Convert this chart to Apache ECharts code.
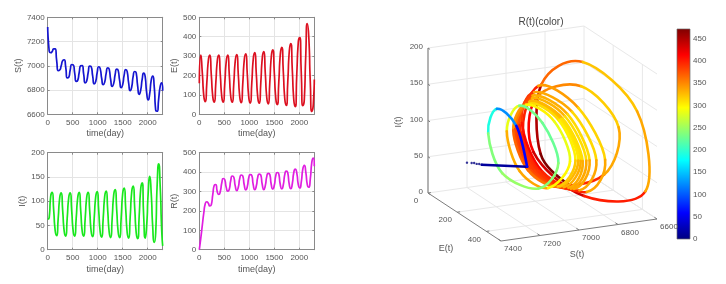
<!DOCTYPE html>
<html><head><meta charset="utf-8">
<style>html,body{margin:0;padding:0;background:#fff}#c{width:726px;height:284px;filter:blur(0.35px)}</style>
<script src="https://cdn.jsdelivr.net/npm/echarts@6/dist/echarts.min.js"></script>
</head><body><div id="c"></div>
<script>
const time=[0,30,60,90,120,150,180,210,240,270,300,330,360,390,420,450,480,510,540,570,600,630,660,690,720,750,780,810,840,870,900,930,960,990,1020,1050,1080,1110,1140,1170,1200,1230,1260,1290,1320,1350,1380,1410,1440,1470,1500,1530,1560,1590,1620,1650,1680,1710,1740,1770,1800,1830,1860,1890,1920,1950,1980,2010,2040,2070,2100,2130,2160,2190,2220,2250,2280,2300];
const Sv=[7320,7120,7108,7118,7140,7140,7040,6960,6965,7000,7043,7050,6990,6900,6905,6965,7010,7008,6940,6872,6880,6945,7000,7002,6930,6860,6875,6945,6998,6992,6915,6851,6870,6945,6992,6977,6895,6845,6865,6940,6983,6972,6885,6830,6855,6930,6973,6962,6875,6820,6845,6925,6968,6952,6855,6795,6825,6915,6953,6942,6830,6765,6800,6890,6940,6910,6775,6718,6770,6880,6915,6830,6635,6625,6730,6830,6860,6795];
const Ev=[160,305,215,95,65,161,276,305,203,90,63,161,276,305,203,90,63,161,275,305,203,89,62,160,278,308,204,87,60,161,282,312,205,86,58,163,287,318,208,86,57,163,291,323,210,84,54,164,298,332,214,81,50,167,309,345,219,79,46,170,326,365,228,74,40,210,372,395,208,45,75,308,467,397,165,15,50,180];
const Iv=[63,66,110,118,81,39,29,65,107,117,80,38,28,65,107,117,80,38,28,65,107,118,81,38,28,65,108,118,80,37,27,65,109,120,81,36,26,65,110,121,81,36,25,66,113,124,82,36,25,67,116,127,84,35,24,68,119,131,86,35,23,70,125,138,68,24,51,117,151,117,48,15,35,136,177,130,40,8];
const Rv=[0,60,125,190,238,247,240,226,232,285,332,336,298,285,300,345,367,360,320,302,312,358,380,374,328,305,322,368,385,380,332,308,325,372,387,383,333,310,328,375,390,385,335,310,330,378,393,388,335,312,332,382,398,390,335,313,335,388,405,396,335,315,340,398,415,395,335,318,350,415,435,400,335,322,365,450,472,430];
const earlyS=[7320,7302,7292,7282,7272,7262];
const earlyE=[160,168,172,176,180,184];
const earlyI=[60,60,60,59,59,58];
const sTicks3D=[7400,7200,7000,6800,6600];
const eTicks3D=[0,200,400];
const iTicks3D=[0,50,100,150,200];
const jet=['#00007f','#0000ff','#007fff','#00ffff','#7fff7f','#ffff00','#ff7f00','#ff0000','#7f0000'];
const font='"Liberation Sans",Arial,sans-serif', txt='#555555', frame='#8a8a8a', gridc='#e4e4e4';
const plain=v=>String(v);

const panels=[
 {name:'S(t)',v:Sv,color:'#1515d0',min:6600,max:7400,step:200,l:47.7,t:17.3,gap:23},
 {name:'E(t)',v:Ev,color:'#dc1020',min:0,max:500,step:100,l:199.3,t:17.3,gap:20},
 {name:'I(t)',v:Iv,color:'#18e81c',min:0,max:200,step:50,l:47.7,t:152.7,gap:20},
 {name:'R(t)',v:Rv,color:'#e01ee0',min:0,max:500,step:100,l:199.3,t:152.7,gap:20}];
const grid=[],xAxis=[],yAxis=[],series=[];
panels.forEach((p,i)=>{
 grid.push({left:p.l,top:p.t,width:115,height:97,show:false});
 const xa={type:'value',gridIndex:i,min:0,max:2300,interval:500,
  axisLine:{show:true,onZero:false,lineStyle:{color:frame,width:1}},
  axisTick:{show:true,inside:true,length:2,lineStyle:{color:frame}},
  splitLine:{show:true,lineStyle:{color:gridc,width:1}},
  axisLabel:{color:txt,fontFamily:font,fontSize:8,margin:4,showMaxLabel:false,formatter:plain}};
 xAxis.push({...xa,position:'bottom',name:'time(day)',nameLocation:'middle',nameGap:15,nameTextStyle:{color:txt,fontFamily:font,fontSize:9}});
 xAxis.push({...xa,position:'top',splitLine:{show:false},axisLabel:{show:false}});
 const ya={type:'value',gridIndex:i,min:p.min,max:p.max,interval:p.step,
  axisLine:{show:true,onZero:false,lineStyle:{color:frame,width:1}},
  axisTick:{show:true,inside:true,length:2,lineStyle:{color:frame}},
  splitLine:{show:true,lineStyle:{color:gridc,width:1}},
  axisLabel:{color:txt,fontFamily:font,fontSize:8,margin:3,formatter:plain}};
 yAxis.push({...ya,position:'left',name:p.name,nameLocation:'middle',nameGap:p.gap,nameTextStyle:{color:txt,fontFamily:font,fontSize:9}});
 yAxis.push({...ya,position:'right',splitLine:{show:false},axisLabel:{show:false}});
 series.push({type:'line',name:p.name,xAxisIndex:i*2,yAxisIndex:i*2,data:time.map((t,k)=>[t,p.v[k]]),
  smooth:0.7,showSymbol:false,lineStyle:{color:p.color,width:1.7},itemStyle:{color:p.color},z:3,silent:true});
});

// colour bar scale
const CB=panels.length;
const CBI=xAxis.length;
grid.push({left:677,top:29,width:13,height:210,show:false});
xAxis.push({type:'value',gridIndex:CB,min:0,max:1,show:false});
yAxis.push({type:'value',gridIndex:CB,position:'right',min:0,max:472,interval:50,
 axisLine:{show:false},axisTick:{show:false},splitLine:{show:false},
 axisLabel:{color:txt,fontFamily:font,fontSize:8,margin:3,showMaxLabel:false,formatter:plain}});
series.push({type:'custom',coordinateSystem:'cartesian2d',xAxisIndex:CBI,yAxisIndex:CBI,silent:true,z:2,clip:false,
 data:[[0,0,1,472]],encode:{x:0,y:1},
 renderItem(params,api){
  const a=api.coord([0,api.value(3)]),b=api.coord([1,0]);
  return {type:'rect',shape:{x:a[0],y:a[1],width:b[0]-a[0],height:b[1]-a[1]},
   style:{fill:new echarts.graphic.LinearGradient(0,1,0,0,jet.map((c,k)=>({offset:k/(jet.length-1),color:c}))),stroke:'#6a6a6a',lineWidth:0.7}};
 }});
// projection plane for the 3-D view
const PL=CB+1;
const xIdx=xAxis.length, yIdx=xIdx;
grid.push({left:0,top:0,width:726,height:284,show:false});
xAxis.push({type:'value',gridIndex:PL,min:0,max:726,show:false});
yAxis.push({type:'value',gridIndex:PL,min:0,max:284,inverse:true,show:false});

function project(s,e,i){
 return [428+e*73/500+(7400-s)*156/800, 193+e*48/500-(7400-s)*22/800-i*145/200];
}
// nearer parts of the trajectory cover farther parts
function nearness(s,e,i){
 return 156*e/500+73*(s-6600)/800+0.2*i;
}
// wires: [S1,E1,I1,S2,E2,I2,kind]
const wires=[];
iTicks3D.forEach(i=>{wires.push([7400,0,i,6600,0,i,0],[6600,0,i,6600,500,i,0]);});
sTicks3D.slice(1).forEach(s=>{wires.push([s,0,0,s,0,200,0],[s,0,0,s,500,0,0]);});
[200,400].forEach(e=>{wires.push([6600,e,0,6600,e,200,0],[7400,e,0,6600,e,0,0]);});
wires.push([7400,0,0,7400,500,0,1],[7400,500,0,6600,500,0,1],[7400,0,0,7400,0,200,2]);
iTicks3D.forEach(i=>wires.push([7400,0,i,7400,14,i,1]));
eTicks3D.forEach(e=>wires.push([7400,e,0,7385,e,0,1]));
sTicks3D.forEach(s=>wires.push([s,500,0,s,482,0,1]));
const wireSeg=wires.map(w=>{const a=project(w[0],w[1],w[2]),b=project(w[3],w[4],w[5]);return [a[0],a[1],b[0],b[1],w[6]];});
series.push({type:'custom',coordinateSystem:'cartesian2d',xAxisIndex:xIdx,yAxisIndex:yIdx,silent:true,z:1,clip:false,
 data:wireSeg,encode:{x:0,y:1},
 renderItem(params,api){
  const a=api.coord([api.value(0),api.value(1)]),b=api.coord([api.value(2),api.value(3)]),k=api.value(4);
  return {type:'line',shape:{x1:a[0],y1:a[1],x2:b[0],y2:b[1]},
   style:{stroke:k===0?'#e8e8e8':(k===1?'#7d7d7d':'#9a9a9a'),lineWidth:k===2?1.5:1}};
 }});
// 3-D tick labels and axis names
const labels=[];
iTicks3D.forEach(i=>{const p=project(7400,0,i);labels.push([p[0]-5,p[1]-1,String(i),'right',8,0]);});
eTicks3D.forEach(e=>{const p=project(7400,e,0);labels.push([p[0]-12,p[1]+8,String(e),'center',8,0]);});
sTicks3D.forEach(s=>{const p=project(s,500,0);labels.push([p[0]+12,p[1]+8,String(s),'center',8,0]);});
labels.push([446,249,'E(t)','center',9,0],[577,255,'S(t)','center',9,0],[399,122,'I(t)','center',9,Math.PI/2]);
series.push({type:'custom',coordinateSystem:'cartesian2d',xAxisIndex:xIdx,yAxisIndex:yIdx,silent:true,z:2,clip:false,
 data:labels.map(l=>[l[0],l[1]]),encode:{x:0,y:1},
 renderItem(params,api){
  const l=labels[params.dataIndex],a=api.coord([l[0],l[1]]);
  return {type:'text',x:a[0],y:a[1],rotation:l[5],
   style:{text:l[2],fill:txt,font:l[4]+'px '+font,textAlign:l[3],textVerticalAlign:'middle'}};
 }});
// early scattered points of the trajectory
series.push({type:'scatter',xAxisIndex:xIdx,yAxisIndex:yIdx,silent:true,z:4,symbolSize:2.4,
 itemStyle:{color:'#00007f'},data:earlyS.map((s,k)=>project(s,earlyE[k],earlyI[k]))});
// coloured trajectory
const last=earlyS.length-1;
const traj=[[...project(earlyS[last],earlyE[last],earlyI[last]),Rv[0]+14,nearness(earlyS[last],earlyE[last],earlyI[last])]];
for(let k=1;k<time.length;k++)traj.push([...project(Sv[k],Ev[k],Iv[k]),Rv[k],nearness(Sv[k],Ev[k],Iv[k])]);
const TR=series.length;
series.push({type:'custom',coordinateSystem:'cartesian2d',xAxisIndex:xIdx,yAxisIndex:yIdx,silent:true,z:5,clip:false,
 data:traj,encode:{x:0,y:1},dimensions:['px','py','R','near'],
 renderItem(params,api){
  const i=params.dataIndex;
  if(i>=traj.length-1)return null;
  const c=k=>api.coord([traj[k][0],traj[k][1]]);
  const p1=c(i),p2=c(i+1),p0=i>0?c(i-1):p1,p3=i+2<traj.length?c(i+2):p2;
  // the corner at the first turn stays sharp
  const t1=i<=1?[0,0]:[(p2[0]-p0[0])/6,(p2[1]-p0[1])/6];
  const t2=i===0?[0,0]:[(p3[0]-p1[0])/6,(p3[1]-p1[1])/6];
  return {type:'bezierCurve',z2:(traj[i][3]+traj[i+1][3])/2,shape:{x1:p1[0],y1:p1[1],x2:p2[0],y2:p2[1],
    cpx1:p1[0]+t1[0],cpy1:p1[1]+t1[1],cpx2:p2[0]-t2[0],cpy2:p2[1]-t2[1]},
   style:{stroke:api.visual('color'),fill:'none',lineWidth:2.6,lineCap:'round'}};
 }});
const chart=echarts.init(document.getElementById('c'),null,{renderer:'canvas'});
chart.setOption({animation:false,backgroundColor:'#ffffff',
 title:{text:'R(t)(color)',left:541,top:17,textAlign:'center',padding:0,
  textStyle:{color:'#444444',fontFamily:font,fontSize:10,fontWeight:'normal'}},
 grid,xAxis,yAxis,series,
 visualMap:{type:'continuous',show:false,seriesIndex:TR,dimension:2,min:0,max:472,inRange:{color:jet}}
});
</script></body></html>
